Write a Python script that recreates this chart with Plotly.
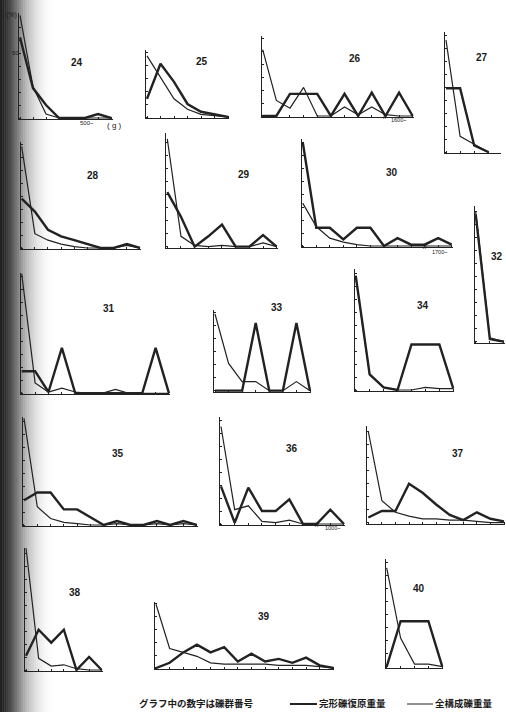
import plotly.graph_objects as go

# ---------------- data (percent by weight class) ----------------
panel_ids = ["24", "25", "26", "27", "28", "29", "30", "32",
             "31", "33", "34", "35", "36", "37", "38", "39", "40"]

p24_thin = [79, 24, 3, 0, 0, 0, 0, 0]
p24_thick = [62, 23, 10, 0, 0, 0, 3, 0]
p25_thin = [47, 31, 14, 6, 2, 1, 0]
p25_thick = [14, 41, 27, 10, 4, 2, 0]
p26_thin = [51, 12, 6, 22, 0, 0, 7, 1, 7, 1, 0, 0]
p26_thick = [0, 0, 17, 17, 17, 0, 17, 0, 18, 0, 18, 0]
p27_thin = [86, 12, 6, 0]
p27_thick = [49, 49, 5, 0]
p28_thin = [78, 11, 6, 3, 1, 0, 0, 0, 2, 0]
p28_thick = [38, 28, 14, 9, 6, 3, 0, 0, 3, 0]
p29_thin = [83, 8, 1, 0, 1, 0, 0, 3, 0]
p29_thick = [42, 23, 0, 8, 17, 0, 0, 9, 0]
p30_thin = [33, 15, 6, 3, 1, 0, 0, 0, 0, 0, 0, 0]
p30_thick = [80, 14, 14, 5, 14, 14, 0, 6, 1, 1, 6, 1]
p32_thin = [100, 3, 0]
p32_thick = [98, 2, 0]
p31_thin = [92, 8, 1, 4, 1, 0, 0, 3, 0, 0, 0, 0]
p31_thick = [17, 17, 1, 35, 0, 0, 0, 0, 0, 0, 35, 0]
p33_thin = [59, 21, 7, 7, 0, 0, 7, 0]
p33_thick = [0, 0, 0, 52, 0, 0, 52, 0]
p34_thin = [87, 12, 2, 0, 0, 2, 1, 1]
p34_thick = [88, 12, 2, 0, 35, 35, 35, 1]
p35_thin = [82, 14, 5, 2, 1, 0, 0, 1, 0, 0, 1, 0, 1, 0]
p35_thick = [19, 25, 25, 12, 12, 6, 0, 3, 0, 0, 3, 0, 3, 0]
p36_thin = [75, 11, 14, 2, 1, 3, 0, 0, 0, 0]
p36_thick = [29, 1, 28, 10, 10, 19, 0, 0, 11, 0]
p37_thin = [70, 17, 8, 5, 3, 3, 2, 2, 1, 0, 0]
p37_thick = [4, 9, 9, 30, 23, 14, 6, 2, 8, 3, 1]
p38_thin = [94, 9, 3, 4, 1, 0, 0]
p38_thick = [11, 31, 21, 31, 0, 10, 0]
p39_thin = [49, 15, 12, 9, 4, 3, 3, 3, 3, 2, 2, 2, 1, 0]
p39_thick = [0, 4, 12, 18, 12, 16, 5, 11, 5, 7, 4, 8, 2, 0]
p40_thin = [76, 22, 2, 2, 0]
p40_thick = [0, 35, 35, 35, 0]

series = {
    "24": (p24_thin, p24_thick), "25": (p25_thin, p25_thick),
    "26": (p26_thin, p26_thick), "27": (p27_thin, p27_thick),
    "28": (p28_thin, p28_thick), "29": (p29_thin, p29_thick),
    "30": (p30_thin, p30_thick), "32": (p32_thin, p32_thick),
    "31": (p31_thin, p31_thick), "33": (p33_thin, p33_thick),
    "34": (p34_thin, p34_thick), "35": (p35_thin, p35_thick),
    "36": (p36_thin, p36_thick), "37": (p37_thin, p37_thick),
    "38": (p38_thin, p38_thick), "39": (p39_thin, p39_thick),
    "40": (p40_thin, p40_thick),
}

legend_thick = "完形礫復原重量"
legend_thin = "全構成礫重量"
note_text = "グラフ中の数字は礫群番号"

# ---------------- layout geometry (pixels): x0, x_last_point, x_axis_end, top, base ----------------
W, H = 506, 712
K = 1.3  # px per percent
geom = {
    "24": (20, 111, 112, 13, 118),
    "25": (147, 228, 228, 50, 117),
    "26": (262.7, 412.7, 412.7, 36, 116),
    "27": (446, 488.3, 500, 32, 152),
    "28": (21.7, 140, 140, 141.7, 248),
    "29": (167.3, 276.7, 276.7, 133, 246.7),
    "30": (302.7, 451.7, 451.7, 139.3, 246),
    "32": (475.7, 504, 504, 206, 341.7),
    "31": (21.7, 169, 169, 272.7, 393.3),
    "33": (215, 310, 310, 310, 390.7),
    "34": (355.7, 453.3, 453.3, 269.3, 390),
    "35": (24, 196.7, 196.7, 416.7, 525),
    "36": (221, 344, 344, 416.7, 524),
    "37": (368.3, 504, 504, 426, 522.7),
    "38": (26, 101.7, 101.7, 548.3, 670),
    "39": (156, 333.3, 333.3, 601.7, 668),
    "40": (386.7, 442.3, 442.3, 559.3, 666.7),
}
label_pos = {
    "24": (77, 63), "25": (202, 61.5), "26": (355, 59), "27": (482, 57),
    "28": (93, 176), "29": (244, 174), "30": (392, 173), "32": (497, 256),
    "31": (109, 308), "33": (277, 307), "34": (423, 305), "35": (118, 453),
    "36": (292, 448), "37": (458, 453), "38": (75, 592), "39": (264, 616),
    "40": (419, 588),
}

INK = "#222222"
fig = go.Figure()
layout = {}
annotations = []
shapes = []

# binding shadow on the left edge of the scan
shade = [34, 40, 48, 58, 70, 84, 99, 114, 129, 144, 158, 171, 183, 194, 204,
         212, 220, 227, 233, 238, 243, 247, 250, 252, 254]
sw = 2.1
for i, g in enumerate(shade):
    shapes.append(dict(type="rect", xref="paper", yref="paper",
                       x0=i * sw / W, x1=(i + 1) * sw / W + 0.001, y0=0, y1=1,
                       fillcolor=f"rgb({g},{g},{g})", line=dict(width=0), layer="below"))

for idx, pid in enumerate(panel_ids, start=1):
    x0, xl, xe, top, base = geom[pid]
    thin, thick = series[pid]
    n = len(thin)
    s = (xl - x0) / (n - 1)
    a, b = -0.08, (xe - x0) / s + 0.08
    c, d = -0.8, (base - top) / K
    xdom = [(x0 + a * s) / W, (x0 + b * s) / W]
    ydom = [1 - (base - c * K) / H, 1 - top / H]
    sx = "" if idx == 1 else str(idx)
    layout["xaxis" + sx] = dict(domain=xdom, range=[a, b], anchor="y" + sx,
                               showgrid=False, zeroline=False, showline=True,
                               linecolor=INK, linewidth=1, ticks="inside", ticklen=2,
                               tickcolor=INK, tickvals=list(range(n)),
                               showticklabels=False, fixedrange=True)
    layout["yaxis" + sx] = dict(domain=ydom, range=[c, d], anchor="x" + sx,
                               showgrid=False, zeroline=False, showline=True,
                               linecolor=INK, linewidth=1, ticks="inside", ticklen=2,
                               tickcolor=INK, tick0=0, dtick=10,
                               showticklabels=False, fixedrange=True)
    xs = list(range(n))
    fig.add_trace(go.Scatter(x=xs, y=thin, mode="lines", xaxis="x" + sx, yaxis="y" + sx,
                             line=dict(color=INK, width=1.2), showlegend=False,
                             hoverinfo="skip"))
    fig.add_trace(go.Scatter(x=xs, y=thick, mode="lines", xaxis="x" + sx, yaxis="y" + sx,
                             line=dict(color=INK, width=2.4), showlegend=False,
                             hoverinfo="skip"))
    lx, ly = label_pos[pid]
    annotations.append(dict(text="<b>" + pid + "</b>", x=lx / W, y=1 - ly / H,
                            xref="paper", yref="paper", showarrow=False,
                            xanchor="center", yanchor="middle",
                            font=dict(family="Liberation Sans", size=10, color="#1a1a1a")))


def txt(t, x, y, size, bold=False, family="Liberation Sans", xanchor="center"):
    annotations.append(dict(text=("<b>" + t + "</b>") if bold else t, x=x / W, y=1 - y / H,
                            xref="paper", yref="paper", showarrow=False,
                            xanchor=xanchor, yanchor="middle",
                            font=dict(family=family, size=size, color="#1a1a1a")))


txt("(%)", 11, 15, 7)
txt("50", 15, 53, 6)
txt("500~", 87, 123, 6)
txt("( g )", 114, 125, 8)
txt("1600~", 398, 120, 5.5)
txt("1700~", 439, 252, 5.5)
txt("1000~", 332, 528, 5.5)
txt("//", 385, 116, 7)
txt("//", 425, 246, 7)
txt("//", 317, 524, 7)

cjk = "Noto Sans CJK JP"
txt(note_text, 196, 703, 9.5, bold=True, family=cjk)
txt(legend_thick, 352, 703, 9.5, bold=True, family=cjk)
txt(legend_thin, 464, 703, 9.5, bold=True, family=cjk)
shapes.append(dict(type="line", xref="paper", yref="paper", x0=290 / W, x1=317 / W,
                   y0=1 - 704 / H, y1=1 - 704 / H, line=dict(color=INK, width=2)))
shapes.append(dict(type="line", xref="paper", yref="paper", x0=407 / W, x1=433 / W,
                   y0=1 - 704 / H, y1=1 - 704 / H, line=dict(color=INK, width=1)))

fig.update_layout(layout)
fig.update_layout(width=W, height=H, margin=dict(l=0, r=0, t=0, b=0),
                  paper_bgcolor="white", plot_bgcolor="rgba(0,0,0,0)",
                  annotations=annotations, shapes=shapes, showlegend=False)
fig.write_html("out.html", config={"displayModeBar": False},
               post_script="document.body.style.margin='0';document.body.style.overflow='hidden';")
